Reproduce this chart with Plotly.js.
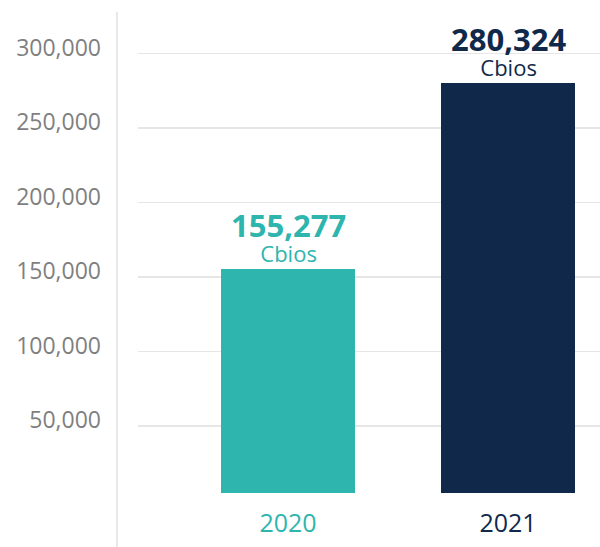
<!DOCTYPE html>
<html>
<head>
<meta charset="utf-8">
<script src="https://cdn.plot.ly/plotly-3.0.1.min.js"></script>
<style>html,body{margin:0;padding:0;background:#fff;}#chart{width:600px;height:547px;}</style>
</head>
<body>
<div id="chart"></div>
<script>
const categories = ["2020", "2021"];
const values = [155277, 280324];
const unitLabel = "Cbios";
const barColors = ["#2EB5AE", "#10294B"];
const yTickVals = [50000, 100000, 150000, 200000, 250000, 300000];
const yTickText = ["50,000", "100,000", "150,000", "200,000", "250,000", "300,000"];

const fontFamily = '"Open Sans", "Noto Sans", sans-serif';

const trace = {
  type: 'bar',
  x: categories,
  y: values,
  width: 0.61,
  marker: {color: barColors, line: {width: 0}},
  hoverinfo: 'none',
  cliponaxis: true
};

const annotations = categories.map((c, i) => ({
  x: i, y: values[i], xref: 'x', yref: 'y',
  text: '<span style="font-size:31px;font-weight:bold">' + values[i].toLocaleString('en-US') +
        '</span><br><span style="font-size:22px">' + unitLabel + '</span>',
  showarrow: false, yanchor: 'bottom', align: 'center',
  font: {family: fontFamily, size: 19, color: barColors[i]},
  borderpad: 0,
  yshift: 0
}));

const layout = {
  width: 600, height: 547,
  margin: {l: 138, r: 0, t: 10, b: 54, pad: 0},
  paper_bgcolor: '#ffffff', plot_bgcolor: '#ffffff',
  font: {family: fontFamily},
  showlegend: false,
  bargap: 0,
  xaxis: {
    type: 'category',
    range: [-0.682, 1.418],
    tickvals: categories,
    ticktext: categories.map((c, i) => '<span style="color:' + barColors[i] + '">' + c + '</span>'),
    tickfont: {family: fontFamily, size: 25, color: '#10294B'},
    showgrid: false, zeroline: false, showline: false, ticks: '',
    ticklabelstandoff: 13,
    fixedrange: true
  },
  yaxis: {
    range: [5000, 329250],
    tickvals: yTickVals,
    ticktext: yTickText,
    tickfont: {family: fontFamily, size: 23, color: '#7f7f7f'},
    showgrid: true, gridcolor: '#e6e6e6', gridwidth: 1.6,
    zeroline: false, showline: false, ticks: '',
    ticklabelstandoff: 36,
    ticklabelshift: -6,
    fixedrange: true
  },
  shapes: [{
    type: 'line', xref: 'paper', yref: 'paper',
    x0: -0.0455, x1: -0.0455, y0: -0.12, y1: 0.9965,
    line: {color: '#e3e3e3', width: 1.6},
    layer: 'below'
  }],
  annotations: annotations
};

Plotly.newPlot('chart', [trace], layout, {displayModeBar: false, staticPlot: true});
</script>
</body>
</html>
